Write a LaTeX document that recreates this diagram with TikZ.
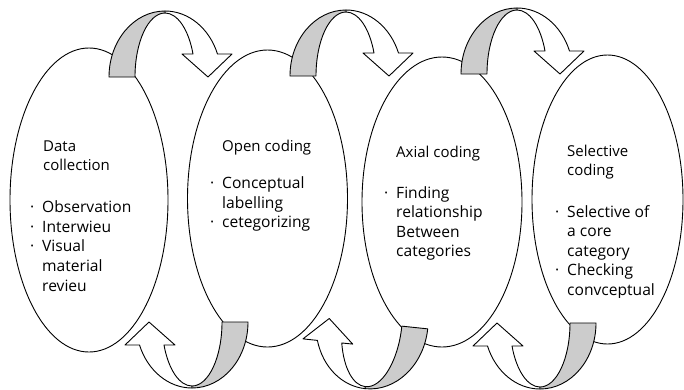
\documentclass[tikz,border=0pt]{standalone}
\usepackage{fontspec}
\setmainfont{Open Sans}
\usetikzlibrary{shapes.geometric}

% bullet column of the stage lists
\newcommand{\stagedot}{\makebox[12pt][l]{·}}

\tikzset{
  stage/.style={ellipse, draw=black, fill=white, line width=0.9pt, inner sep=0pt},
  bandfront/.style={draw=black, fill=white, line width=0.9pt, line join=round},
  bandback/.style={draw=black, fill=gray!40, line width=0.9pt, line join=round},
  stagetitle/.style={anchor=base west, inner sep=0pt, font=\fontsize{15}{19.6}\selectfont},
  stageitems/.style={anchor=base west, inner sep=0pt, font=\fontsize{15.6}{19.6}\selectfont},
  % looping band arrow: shaded rising half on the left, head pointing down on the right
  looparrow/.pic={
    \begin{scope}[yscale=-1]
      \filldraw[bandfront] (0,66) arc[start angle=90, end angle=20.4, x radius=56, y radius=66]
        -- (67,23) -- (43,0) -- (17,23) -- (28,23)
        arc[start angle=21.06, end angle=90, x radius=30, y radius=64] -- cycle;
      \filldraw[bandback] (-56,0) arc[start angle=180, end angle=90, x radius=56, y radius=66]
        -- (0,64) arc[start angle=90, end angle=180, x radius=30, y radius=64] -- cycle;
    \end{scope}
  }
}

\begin{document}
\begin{tikzpicture}[x=1pt, y=-1pt]
\useasboundingbox (0,0) rectangle (684,389);

% the four stages
\node[stage, minimum width=158, minimum height=304] (data)  at (89,200)    {};
\node[stage, minimum width=160, minimum height=297] (open)  at (267.5,198.5) {};
\node[stage, minimum width=160, minimum height=290] (axial) at (442,202)   {};
\node[stage, minimum width=151, minimum height=289] (sel)   at (607.5,199.5) {};

% arrows over the tops, leading to the next stage
\pic (top1) at (165,77) {looparrow};
\pic (top2) at (346,76) {looparrow};
\pic (top3) at (517,74) {looparrow};

% arrows under the bottoms, leading back
\pic[rotate=180] (back1) at (192,322) {looparrow};
\pic[rotate=174] (back2) at (372,323) {looparrow};
\pic[rotate=180] (back3) at (540,323) {looparrow};

% texts of the stages
\node[stagetitle] (datat) at (43,151) {\begin{tabular}[t]{@{}l@{}}Data\\collection\end{tabular}};
\node[stageitems] (datai) at (30,212.7) {\begin{tabular}[t]{@{}l@{}l@{}}
  \stagedot & Observation\\
  \stagedot & Interwieu\\
  \stagedot & Visual\\
            & material\\
            & revieu\end{tabular}};

\node[stagetitle] (opent) at (222,151) {Open coding};
\node[stageitems] (openi) at (210,188.5) {\begin{tabular}[t]{@{}l@{}l@{}}
  \stagedot & Conceptual\\
            & labelling\\
  \stagedot & cetegorizing\end{tabular}};

\node[stagetitle] (axialt) at (396,157) {Axial coding};
\node[stageitems] (axiali) at (384,198) {\begin{tabular}[t]{@{}l@{}l@{}}
  \stagedot & Finding\\
            & relationship\\
            & Between\\
            & categories\end{tabular}};

\node[stagetitle] (selt) at (567,156) {\begin{tabular}[t]{@{}l@{}}Selective\\coding\end{tabular}};
\begin{scope}
  \clip (540,190) rectangle (684,297.5);
  \node[stageitems] (seli) at (555,217) {\begin{tabular}[t]{@{}l@{}l@{}}
    \stagedot & Selective of\\
              & a core\\
              & category\\
    \stagedot & Checking\\
              & convceptual\end{tabular}};
\end{scope}
\end{tikzpicture}
\end{document}
